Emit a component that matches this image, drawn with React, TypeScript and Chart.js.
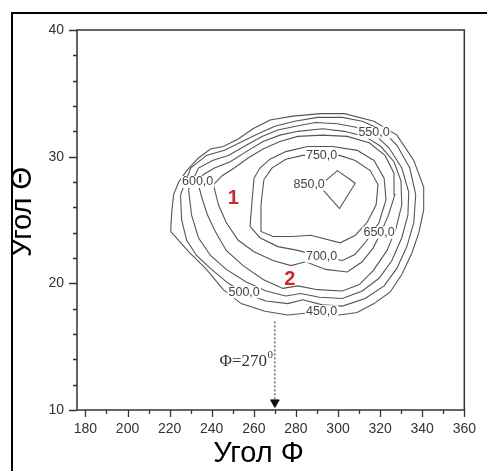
import React, { useEffect, useRef } from 'react';
import { Chart, registerables } from 'chart.js';

Chart.register(...registerables);

// ---- Data (angle Φ on x, angle Θ on y) ----
const contourLevels = ['450,0', '500,0', '550,0', '600,0', '650,0', '700,0', '750,0', '850,0'];

const contour450 = [[220.5,24.1],[221.0,25.6],[221.9,27.0],[224.3,28.0],[228.1,28.9],[233.7,29.9],[239.4,30.6],[245.5,30.8],[252.6,31.4],[259.6,32.2],[267.7,32.9],[278.5,33.2],[291.7,33.4],[303.0,33.4],[317.1,32.8],[328.0,31.7],[336.0,29.7],[340.7,27.6],[340.7,25.8],[338.4,24.0],[335.1,22.4],[330.3,20.7],[324.7,19.3],[317.1,18.4],[309.1,17.7],[300.7,17.5],[287.9,17.7],[276.1,17.5],[265.3,17.8],[254.0,18.4],[245.5,19.5],[237.5,21.1],[229.0,22.5]];
const contour500 = [[225.2,27.0],[225.7,25.0],[228.1,23.4],[232.8,22.2],[239.9,21.1],[247.9,20.0],[255.9,19.2],[265.8,18.6],[276.1,18.4],[283.2,18.7],[292.6,18.3],[302.1,18.2],[312.9,18.8],[321.9,19.8],[328.0,21.2],[332.7,22.9],[336.0,24.8],[336.9,27.0],[334.1,29.1],[328.0,30.9],[320.9,32.1],[311.5,32.8],[302.1,33.1],[290.3,33.1],[279.4,32.8],[270.0,32.4],[262.0,31.8],[254.5,31.2],[246.0,30.5],[237.5,30.1],[230.0,29.1]];
const contour550 = [[229.0,27.4],[230.4,25.4],[233.7,23.6],[239.4,22.2],[246.9,21.1],[256.4,20.1],[265.8,19.4],[275.2,19.0],[282.3,19.2],[291.2,18.9],[302.1,18.8],[311.5,19.4],[319.5,20.4],[325.6,21.8],[330.3,23.6],[333.2,25.4],[333.6,27.2],[330.3,29.1],[324.2,30.7],[317.1,31.8],[309.1,32.3],[299.7,32.6],[289.3,32.7],[279.9,32.4],[271.4,32.1],[263.9,31.6],[256.4,30.9],[247.9,30.1],[240.3,29.7],[233.7,29.1]];
const contour600 = [[233.3,28.0],[235.6,26.6],[238.0,25.4],[241.7,24.1],[246.9,22.6],[254.9,21.4],[264.4,20.3],[273.8,19.6],[280.9,19.8],[290.3,19.5],[302.1,19.4],[310.1,19.9],[316.7,21.0],[323.3,22.6],[327.5,24.3],[330.3,26.2],[329.9,28.1],[326.6,29.6],[320.4,30.8],[312.9,31.6],[303.0,32.0],[292.6,32.2],[280.9,32.0],[272.4,31.7],[264.4,31.2],[256.4,30.4],[248.8,29.6],[241.3,29.1],[236.1,28.6]];
const contour650 = [[240.8,27.8],[243.2,26.2],[246.9,24.8],[252.6,23.4],[260.1,22.5],[269.1,21.8],[277.6,21.4],[284.6,21.7],[294.1,21.1],[304.4,20.9],[311.5,21.7],[316.7,22.8],[320.4,24.0],[324.2,25.5],[327.0,27.0],[326.6,28.7],[322.3,30.1],[314.8,31.1],[304.4,31.6],[292.6,31.7],[280.9,31.6],[272.4,31.2],[264.4,30.6],[257.3,29.9],[250.7,29.1],[245.0,28.5]];
const contour700 = [[260.1,28.3],[259.2,26.6],[258.2,24.5],[262.9,23.6],[271.4,22.9],[280.9,22.6],[292.2,22.1],[302.1,21.8],[308.2,22.3],[313.8,23.4],[319.5,24.8],[322.8,26.6],[321.9,28.3],[317.1,29.7],[309.1,30.5],[297.4,30.8],[285.6,30.8],[275.2,30.4],[267.7,29.8],[262.9,29.1]];
const contour750 = [[264.8,28.2],[263.4,26.2],[263.4,24.1],[269.1,23.7],[278.5,23.7],[287.0,23.8],[301.1,23.2],[308.2,23.8],[313.8,24.8],[318.1,26.2],[319.0,27.8],[315.3,28.9],[308.2,29.7],[300.7,30.1],[292.6,30.1],[283.2,30.1],[275.2,29.8],[268.6,29.1]];
const contour850 = [[291.2,27.7],[299.7,28.9],[308.2,27.9],[300.7,25.9]];

const contours = [contour450, contour500, contour550, contour600, contour650, contour700, contour750, contour850];

// contour label positions (data units)
const labelX = [292.2, 255.4, 317.1, 233.3, 319.5, 292.2, 292.2, 286.3];
const labelY = [17.8, 19.3, 31.9, 28.0, 24.0, 22.1, 30.1, 27.8];

// red markers
const markerText = ['1', '2'];
const markerX = [250.2, 277.1];
const markerY = [26.7, 20.3];

// arrow Φ = 270°
const arrowX = [270, 270];
const arrowY = [17.0, 10.6];
const phiText = 'Φ=270';
const phiSup = '0';
const phiX = 266.3;
const phiY = 13.8;

// axes
const xMin = 176;
const xMax = 360;
const yMin = 10;
const yMax = 40;
const xMajorTicks = [180, 200, 220, 240, 260, 280, 300, 320, 340, 360];
const xMinorTicks = [190, 210, 230, 250, 270, 290, 310, 330, 350];
const yMajorTicks = [10, 20, 30, 40];
const yMinorTicks = [12, 14, 16, 18, 22, 24, 26, 28, 32, 34, 36, 38];
const xTitle = 'Угол Φ';
const yTitle = 'Угол Θ';

const SANS = '"Liberation Sans", Arial, Helvetica, sans-serif';
const SERIF = '"Liberation Serif", "Times New Roman", serif';

const decorPlugin = {
  id: 'decor',
  beforeDraw(chart: any) {
    const { ctx, width, height } = chart;
    ctx.save();
    ctx.fillStyle = '#ffffff';
    ctx.fillRect(0, 0, width, height);
    // outer frame (only left and top visible)
    ctx.fillStyle = '#000000';
    ctx.fillRect(11, 12, 2, height - 12);
    ctx.fillRect(11, 12, width - 11, 2);
    ctx.restore();
  },
  afterDatasetsDraw(chart: any) {
    const { ctx, scales } = chart;
    const xs = scales.x;
    const ys = scales.y;
    ctx.save();
    // contour labels with white background
    ctx.font = `12.5px ${SANS}`;
    ctx.textAlign = 'center';
    ctx.textBaseline = 'middle';
    contourLevels.forEach((t, i) => {
      const px = xs.getPixelForValue(labelX[i]);
      const py = ys.getPixelForValue(labelY[i]);
      const w = ctx.measureText(t).width;
      ctx.fillStyle = '#ffffff';
      ctx.fillRect(px - w / 2 - 1, py - 6, w + 2, 12);
      ctx.fillStyle = '#444444';
      ctx.fillText(t, px, py);
    });
    // red markers
    ctx.font = `bold 20px ${SANS}`;
    ctx.fillStyle = '#d0282a';
    markerText.forEach((t, i) => {
      ctx.fillText(t, xs.getPixelForValue(markerX[i]), ys.getPixelForValue(markerY[i]));
    });
    // phi annotation
    const ppx = xs.getPixelForValue(phiX);
    const ppy = ys.getPixelForValue(phiY);
    ctx.fillStyle = '#333333';
    ctx.font = `17px ${SERIF}`;
    ctx.textAlign = 'right';
    ctx.fillText(phiText, ppx, ppy);
    ctx.font = `11px ${SERIF}`;
    ctx.textAlign = 'left';
    ctx.fillText(phiSup, ppx + 0.5, ppy - 7);
    ctx.restore();
  },
  afterDraw(chart: any) {
    const { ctx, chartArea: ca, scales } = chart;
    const xs = scales.x;
    const ys = scales.y;
    ctx.save();
    ctx.strokeStyle = '#333333';
    ctx.lineWidth = 1.5;
    ctx.strokeRect(ca.left, ca.top, ca.right - ca.left, ca.bottom - ca.top);
    ctx.beginPath();
    xMajorTicks.forEach((v) => {
      const p = Math.round(xs.getPixelForValue(v)) + 0.5;
      ctx.moveTo(p, ca.bottom);
      ctx.lineTo(p, ca.bottom + 7);
    });
    xMinorTicks.forEach((v) => {
      const p = Math.round(xs.getPixelForValue(v)) + 0.5;
      ctx.moveTo(p, ca.bottom);
      ctx.lineTo(p, ca.bottom + 4);
    });
    yMajorTicks.forEach((v) => {
      const p = Math.round(ys.getPixelForValue(v)) + 0.5;
      ctx.moveTo(ca.left, p);
      ctx.lineTo(ca.left - 8, p);
    });
    yMinorTicks.forEach((v) => {
      const p = Math.round(ys.getPixelForValue(v)) + 0.5;
      ctx.moveTo(ca.left, p);
      ctx.lineTo(ca.left - 4, p);
    });
    ctx.lineWidth = 1.3;
    ctx.stroke();
    ctx.restore();
  },
};

export default function App() {
  const ref = useRef<HTMLCanvasElement | null>(null);

  useEffect(() => {
    if (!ref.current) return;
    const datasets: any[] = contours.map((c, i) => ({
      label: contourLevels[i],
      data: [...c, c[0]].map(([x, y]) => ({ x, y })),
      showLine: true,
      borderColor: '#555555',
      borderWidth: 1.1,
      pointRadius: 0,
      fill: false,
      tension: 0,
    }));
    datasets.push({
      label: 'arrow',
      data: arrowX.map((x, i) => ({ x, y: arrowY[i] })),
      showLine: true,
      borderColor: '#222222',
      borderWidth: 1,
      borderDash: [2, 2],
      pointRadius: [0, 5],
      pointStyle: 'triangle',
      pointRotation: 180,
      pointBackgroundColor: '#111111',
      pointBorderColor: '#111111',
      pointBorderWidth: 1,
    });

    const chart = new Chart(ref.current, {
      type: 'scatter',
      data: { datasets },
      plugins: [decorPlugin],
      options: {
        animation: false,
        responsive: false,
        devicePixelRatio: 1,
        layout: { padding: { top: 30, right: 19, left: 0, bottom: 0 } },
        plugins: { legend: { display: false }, tooltip: { enabled: false } },
        scales: {
          x: {
            type: 'linear',
            min: xMin,
            max: xMax,
            afterFit: (s: any) => { s.height = 61; },
            afterBuildTicks: (s: any) => { s.ticks = xMajorTicks.map((v) => ({ value: v })); },
            grid: { display: false, drawTicks: false },
            border: { display: false },
            ticks: {
              autoSkip: false,
              maxRotation: 0,
              padding: 11,
              color: '#333333',
              font: { family: SANS, size: 14 },
            },
            title: {
              display: true,
              text: xTitle + '   ',
              color: '#000000',
              font: { family: SANS, size: 29, lineHeight: 1.2 },
              padding: { top: 0, bottom: 0 },
            },
          },
          y: {
            type: 'linear',
            min: yMin,
            max: yMax,
            afterFit: (s: any) => { s.width = 77; },
            afterBuildTicks: (s: any) => { s.ticks = yMajorTicks.map((v) => ({ value: v })); },
            grid: { display: false, drawTicks: false },
            border: { display: false },
            ticks: {
              autoSkip: false,
              padding: 13,
              color: '#333333',
              font: { family: SANS, size: 14 },
            },
            title: {
              display: true,
              text: '  ' + yTitle,
              color: '#000000',
              font: { family: SANS, size: 29, lineHeight: 1.2 },
              padding: { top: 6, bottom: 0 },
            },
          },
        },
      },
    } as any);
    return () => chart.destroy();
  }, []);

  return (
    <div style={{ position: 'fixed', left: 0, top: 0, width: 487, height: 471, background: '#fff', overflow: 'hidden' }}>
      <canvas ref={ref} width={487} height={471} style={{ display: 'block', width: 487, height: 471 }} />
    </div>
  );
}
